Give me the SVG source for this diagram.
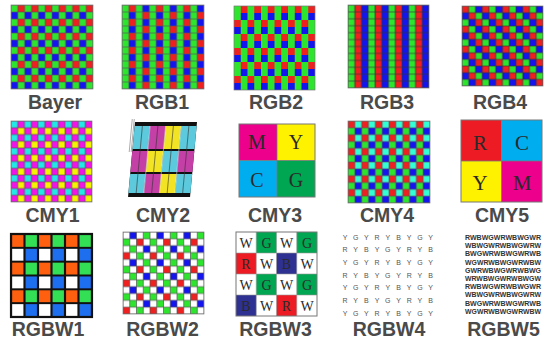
<svg xmlns="http://www.w3.org/2000/svg" width="548" height="340" viewBox="0 0 548 340">
<style>
.lbl{font-family:"Liberation Sans",Arial,sans-serif;font-weight:bold;font-size:19.5px;fill:#4a4a4a;text-anchor:middle}
.g{fill:#2ee52e}.r{fill:#ee2020}.b{fill:#1414ee}
.c{fill:#22e8e8}.m{fill:#f014e6}.y{fill:#f5f500}.aq{fill:#33ffd6}
.o{fill:#ff6010}.w{fill:#ffffff}.b2{fill:#1e6ff0}.g2{fill:#33e055}
.ln{stroke:#555;stroke-width:1;fill:none}
.lnd{stroke:#333;stroke-width:1;fill:none}
.bd{fill:none;stroke:#777;stroke-width:1}
.ser{font-family:"Liberation Serif","Times New Roman",serif;text-anchor:middle;fill:#2a2a2a}
.sm{font-family:"Liberation Sans",Arial,sans-serif;font-size:7px;fill:#555;text-anchor:middle}
.dn{font-family:"Liberation Sans",Arial,sans-serif;font-size:7.2px;font-weight:bold;fill:#333}
</style>
<defs>
<pattern id="pBayer" width="20" height="20" patternUnits="userSpaceOnUse">
<rect width="10" height="10" class="g"/><rect x="10" width="10" height="10" class="r"/>
<rect y="10" width="10" height="10" class="b"/><rect x="10" y="10" width="10" height="10" class="g"/>
<path class="ln" d="M0 0H20M0 10H20M0 20H20M0 0V20M10 0V20M20 0V20"/>
</pattern>
<pattern id="pRGB1" width="40" height="20" patternUnits="userSpaceOnUse">
<rect width="10" height="20" class="g"/><rect x="10" width="10" height="10" class="r"/><rect x="10" y="10" width="10" height="10" class="b"/>
<rect x="20" width="10" height="20" class="g"/><rect x="30" width="10" height="10" class="b"/><rect x="30" y="10" width="10" height="10" class="r"/>
<path class="ln" d="M0 0H40M0 10H40M0 20H40M0 0V20M10 0V20M20 0V20M30 0V20M40 0V20"/>
</pattern>
<pattern id="pRGB2" width="20" height="40" patternUnits="userSpaceOnUse">
<rect width="20" height="40" class="g"/>
<rect x="10" y="0" width="10" height="10" class="r"/><rect x="10" y="10" width="10" height="10" class="b"/>
<rect x="0" y="20" width="10" height="10" class="r"/><rect x="0" y="30" width="10" height="10" class="b"/>
</pattern>
<pattern id="pRGB3" width="30" height="10" patternUnits="userSpaceOnUse">
<rect width="10" height="10" class="g"/><rect x="10" width="10" height="10" class="r"/><rect x="20" width="10" height="10" class="b"/>
<path class="lnd" d="M0 0H30M0 10H30M0 0V10M10 0V10M20 0V10M30 0V10"/>
</pattern>
<pattern id="pRGB4" width="30" height="30" patternUnits="userSpaceOnUse">
<rect width="10" height="10" class="r"/><rect x="10" width="10" height="10" class="g"/><rect x="20" width="10" height="10" class="b"/>
<rect y="10" width="10" height="10" class="b"/><rect x="10" y="10" width="10" height="10" class="r"/><rect x="20" y="10" width="10" height="10" class="g"/>
<rect y="20" width="10" height="10" class="g"/><rect x="10" y="20" width="10" height="10" class="b"/><rect x="20" y="20" width="10" height="10" class="r"/>
<path class="lnd" d="M0 0H30M0 10H30M0 20H30M0 30H30M0 0V30M10 0V30M20 0V30M30 0V30"/>
</pattern>
<pattern id="pCMY1" width="20" height="20" patternUnits="userSpaceOnUse">
<rect width="10" height="10" class="c"/><rect x="10" width="10" height="10" class="m"/>
<rect y="10" width="10" height="10" class="m"/><rect x="10" y="10" width="10" height="10" class="y"/>
<path class="ln" d="M0 0H20M0 10H20M0 20H20M0 0V20M10 0V20M20 0V20"/>
</pattern>
<pattern id="pCMY4" width="20" height="20" patternUnits="userSpaceOnUse">
<rect width="10" height="10" class="r"/><rect x="10" width="10" height="10" class="aq"/>
<rect y="10" width="10" height="10" class="g"/><rect x="10" y="10" width="10" height="10" class="b"/>
<path class="ln" d="M0 0H20M0 10H20M0 20H20M0 0V20M10 0V20M20 0V20"/>
</pattern>
<pattern id="pRGBW1" width="20" height="20" patternUnits="userSpaceOnUse">
<rect width="10" height="10" class="o"/><rect x="10" width="10" height="10" class="g2"/>
<rect y="10" width="10" height="10" class="w"/><rect x="10" y="10" width="10" height="10" class="b2"/>
<path d="M0 0H20M0 10H20M0 20H20M0 0V20M10 0V20M20 0V20" stroke="#111" stroke-width="1.6" fill="none"/>
</pattern>
<pattern id="pRGBW2" width="40" height="40" patternUnits="userSpaceOnUse">
<rect width="40" height="40" class="w"/>
<rect x="10" y="0" width="10" height="10" class="b"/><rect x="30" y="0" width="10" height="10" class="g"/>
<rect x="0" y="10" width="10" height="10" class="g"/><rect x="20" y="10" width="10" height="10" class="r"/>
<rect x="10" y="20" width="10" height="10" class="g"/><rect x="30" y="20" width="10" height="10" class="b"/>
<rect x="0" y="30" width="10" height="10" class="r"/><rect x="20" y="30" width="10" height="10" class="g"/>
<path class="ln" d="M0 0H40M0 10H40M0 20H40M0 30H40M0 40H40M0 0V40M10 0V40M20 0V40M30 0V40M40 0V40"/>
</pattern>
</defs>

<g id="bayer">
<g transform="translate(11,5) scale(0.6833,0.7)"><rect width="120" height="120" fill="url(#pBayer)"/><rect width="120" height="120" class="bd"/></g>
<text class="lbl" x="55" y="109">Bayer</text>
</g>
<g id="rgb1">
<g transform="translate(122,5) scale(0.6833,0.7)"><rect width="120" height="120" fill="url(#pRGB1)"/><rect width="120" height="120" class="bd"/></g>
<text class="lbl" x="162" y="109">RGB1</text>
</g>
<g id="rgb2">
<g transform="translate(234,6) scale(0.675,0.7)"><rect width="120" height="120" fill="url(#pRGB2)"/><rect width="120" height="120" class="bd"/></g>
<text class="lbl" x="276" y="109">RGB2</text>
</g>
<g id="rgb3">
<g transform="translate(348,5) scale(0.675,0.6917)"><rect width="120" height="120" fill="url(#pRGB3)"/><rect width="120" height="120" class="bd" stroke-width="1.5"/></g>
<text class="lbl" x="387" y="109">RGB3</text>
</g>
<g id="rgb4">
<g transform="translate(462,6) scale(0.675,0.6667)"><rect width="120" height="120" fill="url(#pRGB4)"/><rect width="120" height="120" class="bd" stroke-width="1.5"/></g>
<text class="lbl" x="500" y="109">RGB4</text>
</g>

<g id="cmy1">
<g transform="translate(11,121) scale(0.675,0.675)"><rect width="120" height="120" fill="url(#pCMY1)"/><rect width="120" height="120" class="bd"/></g>
<text class="lbl" x="52.5" y="222">CMY1</text>
</g>
<g id="cmy2">
<g transform="translate(135,122) skewX(-5.3)">
<rect x="0" y="0" width="62" height="75" fill="#111"/>
<rect x="0" y="4" width="15.5" height="23" fill="#5cc9dc"/><rect x="15.5" y="4" width="15.5" height="23" fill="#c43fa6"/><rect x="31" y="4" width="15.5" height="23" fill="#f2e424"/><rect x="46.5" y="4" width="15.5" height="23" fill="#5cc9dc"/>
<rect x="0" y="29" width="15.5" height="21" fill="#c43fa6"/><rect x="15.5" y="29" width="15.5" height="21" fill="#f2e424"/><rect x="31" y="29" width="15.5" height="21" fill="#5cc9dc"/><rect x="46.5" y="29" width="15.5" height="21" fill="#c43fa6"/>
<rect x="0" y="52" width="15.5" height="19" fill="#5cc9dc"/><rect x="15.5" y="52" width="15.5" height="19" fill="#c43fa6"/><rect x="31" y="52" width="15.5" height="19" fill="#f2e424"/><rect x="46.5" y="52" width="15.5" height="19" fill="#5cc9dc"/>
<path d="M7.75 4V71M23.25 4V71M38.75 4V71M54.25 4V71" stroke="#333" stroke-width="1" opacity="0.6"/>
<path d="M15.5 4V71M31 4V71M46.5 4V71" stroke="#fff" stroke-width="0.8" opacity="0.6"/>
<path d="M-3 -3V30M-1 -3V30" stroke="#999" stroke-width="0.8"/>
</g>
<text class="lbl" x="163" y="222">CMY2</text>
</g>
<g id="cmy3">
<rect x="239" y="124" width="38" height="36.5" fill="#ec008c"/><rect x="277" y="124" width="38" height="36.5" fill="#fff200"/>
<rect x="239" y="160.5" width="38" height="36.5" fill="#00aeef"/><rect x="277" y="160.5" width="38" height="36.5" fill="#00a651"/>
<rect x="239" y="124" width="76" height="73" class="bd"/>
<path d="M277 124V197M239 160.5H315" stroke="#777" stroke-width="0.8"/>
<text class="ser" x="257" y="149" font-size="20">M</text><text class="ser" x="296" y="149" font-size="20">Y</text>
<text class="ser" x="257" y="187" font-size="20">C</text><text class="ser" x="296" y="187" font-size="20">G</text>
<text class="lbl" x="275" y="222">CMY3</text>
</g>
<g id="cmy4">
<g transform="translate(348,121) scale(0.6833,0.6833)"><rect width="120" height="120" fill="url(#pCMY4)"/><rect width="120" height="120" class="bd"/></g>
<text class="lbl" x="387" y="222">CMY4</text>
</g>
<g id="cmy5">
<rect x="461" y="120" width="40.5" height="41" fill="#ed1c24"/><rect x="501.5" y="120" width="40.5" height="41" fill="#00aeef"/>
<rect x="461" y="161" width="40.5" height="41" fill="#fff200"/><rect x="501.5" y="161" width="40.5" height="41" fill="#ec008c"/>
<rect x="461" y="120" width="81" height="82" class="bd"/>
<path d="M501.5 120V202M461 161H542" stroke="#777" stroke-width="0.8"/>
<text class="ser" x="480" y="150" font-size="21">R</text><text class="ser" x="522" y="150" font-size="21">C</text>
<text class="ser" x="480" y="190" font-size="21">Y</text><text class="ser" x="522" y="190" font-size="21">M</text>
<text class="lbl" x="502" y="222">CMY5</text>
</g>

<g id="rgbw1">
<g transform="translate(11,234) scale(1.35,1.383)"><rect width="60" height="60" fill="url(#pRGBW1)"/><rect width="60" height="60" fill="none" stroke="#111" stroke-width="1.6"/></g>
<text class="lbl" x="48" y="336">RGBW1</text>
</g>
<g id="rgbw2">
<g transform="translate(123,232) scale(0.675,0.6833)"><rect width="120" height="120" fill="url(#pRGBW2)"/><rect width="120" height="120" class="bd"/></g>
<text class="lbl" x="162.5" y="336">RGBW2</text>
</g>
<g id="rgbw3">
<rect x="236" y="232" width="81" height="84" fill="#fff"/>
<rect x="256.25" y="232" width="20.25" height="21" fill="#00a651"/><rect x="296.75" y="232" width="20.25" height="21" fill="#00a651"/>
<rect x="236" y="253" width="20.25" height="21" fill="#ed1c24"/><rect x="276.5" y="253" width="20.25" height="21" fill="#2e3192"/>
<rect x="256.25" y="274" width="20.25" height="21" fill="#00a651"/><rect x="296.75" y="274" width="20.25" height="21" fill="#00a651"/>
<rect x="236" y="295" width="20.25" height="21" fill="#2e3192"/><rect x="276.5" y="295" width="20.25" height="21" fill="#ed1c24"/>
<path d="M256.25 232V316M276.5 232V316M296.75 232V316M236 253H317M236 274H317M236 295H317" stroke="#999" stroke-width="0.6"/>
<rect x="236" y="232" width="81" height="84" class="bd"/>
<g font-size="14">
<text class="ser" x="246" y="247.5">W</text><text class="ser" x="266.5" y="247.5" fill="#145c30">G</text><text class="ser" x="286.5" y="247.5">W</text><text class="ser" x="307" y="247.5" fill="#145c30">G</text>
<text class="ser" x="246" y="268.5" fill="#7a0a0a">R</text><text class="ser" x="266.5" y="268.5">W</text><text class="ser" x="286.5" y="268.5" fill="#16185a">B</text><text class="ser" x="307" y="268.5">W</text>
<text class="ser" x="246" y="289.5">W</text><text class="ser" x="266.5" y="289.5" fill="#145c30">G</text><text class="ser" x="286.5" y="289.5">W</text><text class="ser" x="307" y="289.5" fill="#145c30">G</text>
<text class="ser" x="246" y="310.5" fill="#16185a">B</text><text class="ser" x="266.5" y="310.5">W</text><text class="ser" x="286.5" y="310.5" fill="#7a0a0a">R</text><text class="ser" x="307" y="310.5">W</text>
</g>
<text class="lbl" x="275.5" y="336">RGBW3</text>
</g>
<g id="rgbw4">
<text class="sm" x="345 355.7 366.4 377.1 387.8 398.5 409.2 419.9 430.6" y="239.5">YGYRYBYGY</text>
<text class="sm" x="345 355.7 366.4 377.1 387.8 398.5 409.2 419.9 430.6" y="252">RYBYGYRYB</text>
<text class="sm" x="345 355.7 366.4 377.1 387.8 398.5 409.2 419.9 430.6" y="264.5">YGYRYBYGY</text>
<text class="sm" x="345 355.7 366.4 377.1 387.8 398.5 409.2 419.9 430.6" y="277.5">RYBYGYRYB</text>
<text class="sm" x="345 355.7 366.4 377.1 387.8 398.5 409.2 419.9 430.6" y="290">YGYRYBYGY</text>
<text class="sm" x="345 355.7 366.4 377.1 387.8 398.5 409.2 419.9 430.6" y="302.5">RYBYGYRYB</text>
<text class="sm" x="345 355.7 366.4 377.1 387.8 398.5 409.2 419.9 430.6" y="315.5">YGYRYBYGY</text>
<text class="lbl" x="389" y="336">RGBW4</text>
</g>
<g id="rgbw5">
<text class="dn" x="465" y="240" textLength="76" lengthAdjust="spacingAndGlyphs">RWBWGWRWBWGWR</text>
<text class="dn" x="465" y="248.2" textLength="76" lengthAdjust="spacingAndGlyphs">WBWGWRWBWGWRW</text>
<text class="dn" x="465" y="256.4" textLength="76" lengthAdjust="spacingAndGlyphs">BWGWRWBWGWRWB</text>
<text class="dn" x="465" y="264.6" textLength="76" lengthAdjust="spacingAndGlyphs">WGWRWBWGWRWBW</text>
<text class="dn" x="465" y="272.8" textLength="76" lengthAdjust="spacingAndGlyphs">GWRWBWGWRWBWG</text>
<text class="dn" x="465" y="281" textLength="76" lengthAdjust="spacingAndGlyphs">WRWBWGWRWBWGW</text>
<text class="dn" x="465" y="289.2" textLength="76" lengthAdjust="spacingAndGlyphs">RWBWGWRWBWGWR</text>
<text class="dn" x="465" y="297.4" textLength="76" lengthAdjust="spacingAndGlyphs">WBWGWRWBWGWRW</text>
<text class="dn" x="465" y="305.6" textLength="76" lengthAdjust="spacingAndGlyphs">BWGWRWBWGWRWB</text>
<text class="dn" x="465" y="313.8" textLength="76" lengthAdjust="spacingAndGlyphs">WGWRWBWGWRWBW</text>
<text class="lbl" x="503.5" y="336">RGBW5</text>
</g>
</svg>
